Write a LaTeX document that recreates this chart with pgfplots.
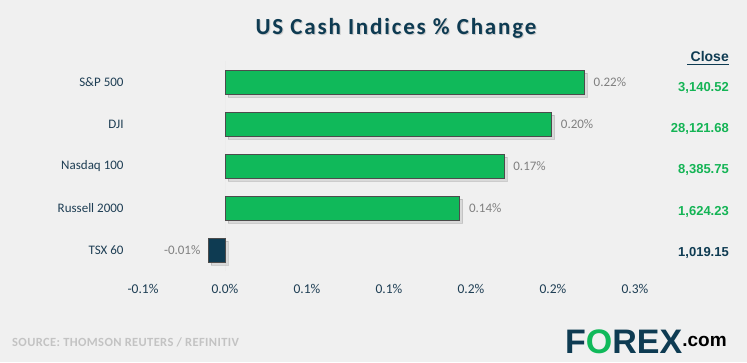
\documentclass[border=0pt]{standalone}
\usepackage{fontspec}
\setmainfont{Carlito}
\newfontfamily\titlefont[LetterSpace=8]{Carlito}
\newfontfamily\srcfont[LetterSpace=3]{Carlito}
\newfontfamily\arialfont{Liberation Sans}
\usepackage{pgfplots}
\pgfplotsset{compat=1.18}
\usetikzlibrary{shadows}
\definecolor{bg}{RGB}{240,240,240}
\definecolor{dark}{RGB}{14,59,82}
\definecolor{barg}{RGB}{16,185,90}
\definecolor{closeg}{RGB}{20,180,85}
\definecolor{lblgray}{RGB}{128,128,128}
\definecolor{srcgray}{RGB}{195,195,195}
\definecolor{tickc}{RGB}{30,62,84}
\begin{document}
\begin{tikzpicture}
\path[use as bounding box, fill=bg] (0pt,0pt) rectangle (747pt,362pt);
% title
\node[text=gray!60, opacity=0.6] at (397pt,333pt) {\titlefont\fontsize{23}{27}\selectfont\bfseries US Cash Indices \% Change};
\node[text=dark] at (396pt,334pt) {\titlefont\fontsize{23}{27}\selectfont\bfseries US Cash Indices \% Change};
\begin{axis}[
  at={(143pt,91pt)}, anchor=south west,
  scale only axis, width=492pt, height=210pt,
  xmin=-0.05, xmax=0.25,
  ymin=-0.5, ymax=4.5, y dir=reverse,
  xtick={-0.05,0,0.05,0.1,0.15,0.2,0.25},
  xticklabels={-0.1\%,0.0\%,0.1\%,0.1\%,0.2\%,0.2\%,0.3\%},
  ytick={0,1,2,3,4},
  yticklabels={S\&P 500,DJI,Nasdaq 100,Russell 2000,TSX 60},
  axis line style={draw=none},
  major tick style={draw=none},
  xticklabel style={font=\fontsize{13.5}{15}\selectfont, text=tickc, yshift=-10pt},
  yticklabel style={font=\fontsize{13}{15}\selectfont, text=tickc, anchor=east, inner sep=0pt, xshift=-15pt},
  xbar, bar width=24pt, bar shift=0pt,
  point meta=explicit symbolic,
  nodes near coords,
  nodes near coords style={font=\fontsize{13}{15}\selectfont, text=lblgray},
  clip=false,
]
\draw[white!85!gray, line width=1pt] (axis cs:0,-0.5) -- (axis cs:0,4.5);
\addplot[fill=barg, draw=black!70, line width=0.5pt,
  drop shadow={opacity=0.2, shadow xshift=3pt, shadow yshift=-3pt},
  every node near coord/.append style={anchor=west, xshift=6pt}]
  coordinates {(0.219,0) [0.22\%] (0.199,1) [0.20\%] (0.170,2) [0.17\%] (0.143,3) [0.14\%]};
\addplot[fill=dark, draw=black!70, line width=0.5pt,
  drop shadow={opacity=0.2, shadow xshift=3pt, shadow yshift=-3pt},
  every node near coord/.append style={anchor=east, xshift=-4pt}]
  coordinates {(-0.0104,4) [-0.01\%]};
\end{axis}
% Close column
\node[anchor=south east, inner sep=0pt, text=dark] at (729pt,300pt) {\arialfont\fontsize{14}{16}\selectfont\bfseries Close};
\draw[dark, line width=1.3pt] (687pt,297.5pt) -- (729pt,297.5pt);
\begin{scope}[every node/.style={anchor=east, inner sep=0pt}]
\node[text=closeg] at (729pt,274pt) {\arialfont\fontsize{13}{15}\selectfont\bfseries 3,140.52};
\node[text=closeg] at (729pt,233pt) {\arialfont\fontsize{13}{15}\selectfont\bfseries 28,121.68};
\node[text=closeg] at (729pt,192pt) {\arialfont\fontsize{13}{15}\selectfont\bfseries 8,385.75};
\node[text=closeg] at (729pt,150pt) {\arialfont\fontsize{13}{15}\selectfont\bfseries 1,624.23};
\node[text=dark] at (729pt,109pt) {\arialfont\fontsize{13}{15}\selectfont\bfseries 1,019.15};
\end{scope}
% source
\node[anchor=west, inner sep=0pt, text=srcgray] at (12pt,20pt) {\srcfont\fontsize{12.5}{14}\selectfont\bfseries SOURCE: THOMSON REUTERS / REFINITIV};
% logo
\node[anchor=base west, inner sep=0pt] at (565pt,9pt) {\arialfont\fontsize{34}{38}\selectfont\bfseries\textcolor{dark}{F}\textcolor{barg}{O}\textcolor{dark}{REX}\raisebox{7pt}{\fontsize{19}{22}\selectfont .com}};
\end{tikzpicture}
\end{document}
